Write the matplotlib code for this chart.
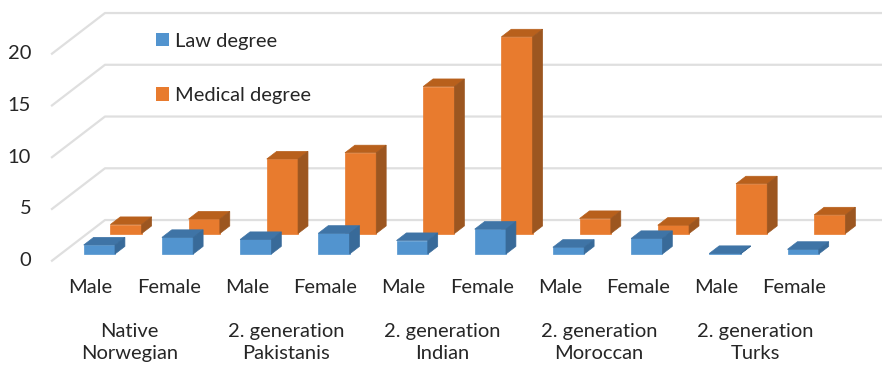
import matplotlib
matplotlib.use("Agg")
import matplotlib.pyplot as plt
from matplotlib.patches import Patch, Polygon

plt.rcParams["font.family"] = ["Lato", "DejaVu Sans"]

sex_labels = ["Male", "Female"] * 5
group_labels = ["Native\nNorwegian", "2. generation\nPakistanis", "2. generation\nIndian",
                "2. generation\nMoroccan", "2. generation\nTurks"]
law_degree = [0.87, 1.6, 1.4, 2.0, 1.3, 2.4, 0.65, 1.5, 0.05, 0.45]
medical_degree = [0.87, 1.4, 7.2, 7.8, 14.2, 19.0, 1.45, 0.8, 4.8, 1.8]
y_ticks = [0, 5, 10, 15, 20]

# oblique projection: depth 0 is the front of the floor, depth 1 the back wall
DEPTH_X = 0.678
DEPTH_Y = 3.93
BAR_W = 0.40
BAR_D = 0.187
LAW_DEPTH = 0.165
MED_DEPTH = 0.668
FLOOR_LEFT = -0.494

TEXT_COLOR = "#262626"
GRID_COLOR = "#dfdfdf"


def project(x, v, d):
    return (x + d * DEPTH_X, v + d * DEPTH_Y)


def draw_bar(ax, x, value, depth, front, top, side):
    l, r = x - BAR_W / 2, x + BAR_W / 2
    d0, d1 = depth, depth + BAR_D
    faces = [
        ([(l, 0, d0), (r, 0, d0), (r, value, d0), (l, value, d0)], front),
        ([(l, value, d0), (r, value, d0), (r, value, d1), (l, value, d1)], top),
        ([(r, 0, d0), (r, 0, d1), (r, value, d1), (r, value, d0)], side),
    ]
    for corners, color in faces:
        pts = [project(*c) for c in corners]
        ax.add_patch(Polygon(pts, closed=True, facecolor=color, edgecolor=color, linewidth=0.5, zorder=3))


fig = plt.figure(figsize=(8.82, 3.65), dpi=100)
ax = fig.add_axes([0, 0, 1, 1])
ax.set_xlim(-1.1586, 10.1202)
ax.set_ylim(-10.077, 25.188)
ax.axis("off")

# wall gridlines plus the diagonals running forward along the floor
for v in y_ticks:
    x0, y0 = project(FLOOR_LEFT, v, 0)
    x1, y1 = project(FLOOR_LEFT, v, 1)
    ax.plot([x0, x1, ax.get_xlim()[1]], [y0, y1, y1], color=GRID_COLOR, linewidth=1.6, zorder=1)
    ax.text(-0.76, v, str(v), ha="right", va="center", fontsize=14.5, color=TEXT_COLOR)

for i, val in enumerate(medical_degree):
    draw_bar(ax, i, val, MED_DEPTH, "#e87b2e", "#b8601c", "#9c5620")
for i, val in enumerate(law_degree):
    draw_bar(ax, i, val, LAW_DEPTH, "#5294cf", "#3f74a6", "#386a99")

for i, lab in enumerate(sex_labels):
    ax.text(i, -2.6, lab, ha="center", va="center", fontsize=14.5, color=TEXT_COLOR)
for i, lab in enumerate(group_labels):
    ax.text(2 * i + 0.5, -7.9, lab, ha="center", va="center", fontsize=14.5, color=TEXT_COLOR,
            linespacing=1.4)

handles = [Patch(facecolor="#5294cf", label="Law degree"), Patch(facecolor="#e87b2e", label="Medical degree")]
ax.legend(handles=handles, loc="upper left", bbox_to_anchor=(0.1765, 0.91), frameon=False,
          prop={"size": 14.5}, labelcolor=TEXT_COLOR, handlelength=0.65, handleheight=0.65,
          handletextpad=0.3, labelspacing=1.85, borderpad=0, borderaxespad=0)

fig.savefig("out.png", dpi=100)
